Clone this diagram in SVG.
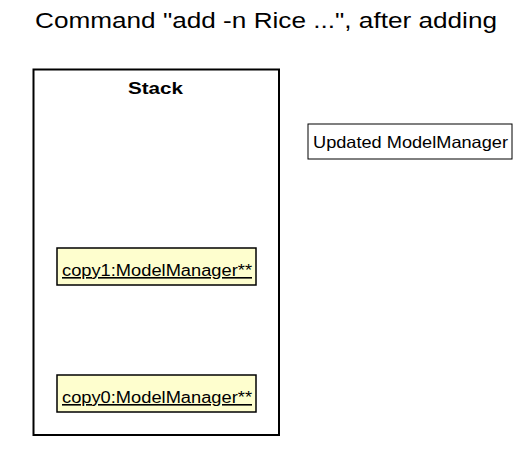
<svg xmlns="http://www.w3.org/2000/svg" width="528" height="450" viewBox="0 0 528 450">
<style>
text{font-family:"Liberation Sans",Arial,sans-serif;fill:#000}
.obj{fill:#FEFECE;stroke:#000;stroke-width:1.5}
.lbl{font-size:16px;text-decoration:underline}
</style>
<rect width="528" height="450" fill="#fff"/>
<text x="35" y="28" font-size="22" textLength="462" lengthAdjust="spacingAndGlyphs">Command "add -n Rice ...", after adding</text>
<g id="stack">
<rect x="33.5" y="69.5" width="245.5" height="365.5" fill="none" stroke="#000" stroke-width="2"/>
<text x="128" y="94" font-size="16" font-weight="bold" textLength="55" lengthAdjust="spacingAndGlyphs">Stack</text>
</g>
<g id="copy1">
<rect class="obj" x="57" y="248" width="199" height="37"/>
<text class="lbl" x="62" y="276" textLength="190" lengthAdjust="spacingAndGlyphs">copy1:ModelManager**</text>
</g>
<g id="copy0">
<rect class="obj" x="57" y="375" width="199" height="37"/>
<text class="lbl" x="62" y="403" textLength="190" lengthAdjust="spacingAndGlyphs">copy0:ModelManager**</text>
</g>
<g id="updated">
<rect x="308" y="124" width="204" height="35" fill="#fff" stroke="#000" stroke-width="1"/>
<text x="313" y="148" font-size="16.5" textLength="195" lengthAdjust="spacingAndGlyphs">Updated ModelManager</text>
</g>
<g id="connectors"></g>
</svg>
